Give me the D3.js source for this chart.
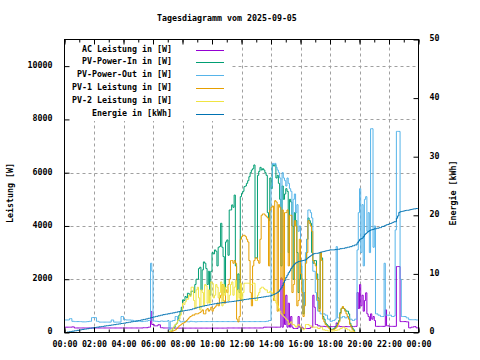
<!DOCTYPE html>
<html><head><meta charset="utf-8">
<script src="https://cdn.jsdelivr.net/npm/d3@7"></script>
<style>
html,body{margin:0;padding:0;background:#fff;}
svg{display:block;}
text{font-family:"DejaVu Sans Mono",monospace;font-size:8.3px;font-weight:bold;fill:#000;}
</style></head><body>
<svg id="c" width="480" height="360"></svg>
<script>
const chartTitle = "Tagesdiagramm vom 2025-09-05";
const yLabel = "Leistung [W]";
const y2Label = "Energie [kWh]";
const seriesNames = ["AC Leistung in [W]","PV-Power-In in [W]","PV-Power-Out in [W]","PV-1 Leistung in [W]","PV-2 Leistung in [W]","Energie in [kWh]"];
const xTickLabels = ["00:00","02:00","04:00","06:00","08:00","10:00","12:00","14:00","16:00","18:00","20:00","22:00","00:00"];
const yTicks = [0,2000,4000,6000,8000,10000];
const y2Ticks = [0,10,20,30,40,50];
// one sample every 5 minutes, 00:00 .. 24:00 (12 per hour row, plus the final 24:00 value)
const sampleStepMinutes = 5;

const acPower = [
200,200,200,200,200,200,210,210,170,170,170,170,
170,170,170,170,170,170,170,170,170,170,170,170,
170,170,170,170,170,170,170,170,170,170,170,170,
170,170,170,170,170,170,170,170,170,170,170,170,
170,170,170,170,170,170,170,170,170,170,170,170,
170,170,170,170,180,180,180,180,200,200,790,300,
300,250,250,250,290,290,180,180,170,170,170,170,
170,170,165,165,165,165,165,165,165,165,165,165,
165,165,165,165,165,165,165,165,165,165,165,165,
165,165,165,165,165,165,165,165,165,165,165,165,
165,165,165,165,165,165,165,165,165,165,165,165,
170,170,170,170,170,170,170,170,170,170,170,170,
170,170,170,170,170,170,170,170,170,170,170,170,
170,170,170,170,170,170,200,200,200,200,200,200,
200,200,200,200,200,200,200,200,2050,200,1850,300,
1400,200,1100,200,600,200,150,150,150,150,600,200,
200,200,150,150,150,150,150,150,200,200,1400,950,
300,300,250,250,230,230,230,230,220,220,220,220,
220,220,220,220,230,360,240,240,220,220,220,220,
220,220,220,220,220,220,220,220,230,230,1500,900,
1800,1000,1400,800,1200,1490,700,600,450,700,500,600,
450,230,230,230,230,230,230,230,230,850,250,250,
230,230,230,230,230,230,2475,2475,2475,410,410,410,
410,410,400,400,175,175,200,200,220,220,175,175,
175];
const pvPowerIn = [
0,0,0,0,0,0,0,0,0,0,0,0,
0,0,0,0,0,0,0,0,0,0,0,0,
0,0,0,0,0,0,0,0,0,0,0,0,
0,0,0,0,0,0,0,0,0,0,0,0,
0,0,0,0,0,0,0,0,0,0,0,0,
0,0,0,0,0,0,0,0,0,0,0,0,
0,0,0,0,0,0,0,0,0,0,0,0,
0,20,50,80,150,200,300,350,500,650,800,950,
1225,1200,1350,1300,1475,1450,1400,1550,1550,1500,1800,2000,
2000,2400,2450,1600,2350,2650,2600,2400,1800,2300,1400,2300,
3000,2950,3100,3050,2500,3200,3230,4100,3200,2850,1500,3400,
3475,2900,4600,4600,4790,4700,5160,2500,1600,2200,1500,5100,
5225,5300,5475,5500,5600,5700,5850,6000,6100,6150,6290,2800,
2800,5900,6050,6200,6100,6150,6100,6000,5900,4500,4200,5800,
5400,6300,6250,6300,5800,5900,5600,5000,2500,5500,5000,5200,
5400,5300,3000,5000,4900,4000,2000,4500,4200,3000,1500,2000,
2500,2000,700,1500,2800,3500,4300,4200,4100,3000,2600,2700,
2700,2200,1300,900,3000,2800,600,500,350,300,250,200,
120,120,130,150,200,250,350,450,750,900,950,900,
850,800,800,700,350,250,150,100,0,0,0,0,
0,0,0,0,0,0,0,0,0,0,0,0,
0,0,0,0,0,0,0,0,0,0,0,0,
0,0,0,0,0,0,0,0,0,0,0,0,
0,0,0,0,0,0,0,0,0,0,0,0,
0];
const pvPowerOut = [
470,470,470,470,520,520,420,420,410,410,410,410,
410,410,400,400,400,400,410,410,420,420,560,560,
560,560,420,420,390,390,390,390,390,390,390,390,
390,390,470,470,390,390,390,390,390,390,600,600,
480,480,470,470,470,470,460,460,430,430,420,420,
420,420,410,410,420,420,430,430,450,450,2600,2300,
430,430,420,420,410,410,430,430,420,420,420,420,
450,100,420,420,450,450,600,600,450,450,400,400,
420,420,410,410,400,400,420,420,410,410,400,400,
410,410,410,410,410,410,410,410,410,410,410,410,
410,410,410,410,410,410,410,410,410,410,410,410,
410,410,410,410,410,410,410,410,410,410,410,410,
410,410,410,410,410,410,410,410,410,410,410,410,
410,410,410,410,410,410,410,410,420,420,450,450,
5500,6350,6300,6350,6200,6100,6000,5800,3000,6000,5800,5700,
5500,5800,5600,5400,5300,4000,5000,5200,4500,4800,3800,4000,
2700,2000,800,1500,3000,3500,4600,4600,4500,4300,2300,2300,
1500,1200,800,800,700,700,700,700,650,650,500,500,
420,420,450,450,500,3225,550,550,550,550,600,600,
550,550,600,600,500,500,450,450,500,500,3100,4500,
5400,3000,4800,2500,5000,5100,3800,4500,3000,7650,7650,3200,
4000,700,700,650,650,600,600,600,2600,650,650,650,
650,650,600,600,620,3850,7550,7550,7550,2000,600,600,
600,600,550,550,480,480,480,480,480,480,470,470,
470];
const pv1Power = [
0,0,0,0,0,0,0,0,0,0,0,0,
0,0,0,0,0,0,0,0,0,0,0,0,
0,0,0,0,0,0,0,0,0,0,0,0,
0,0,0,0,0,0,0,0,0,0,0,0,
0,0,0,0,0,0,0,0,0,0,0,0,
0,0,0,0,0,0,0,0,0,0,0,0,
0,0,0,0,0,0,0,0,0,0,0,0,
0,10,30,40,60,80,100,150,200,250,280,320,
350,370,400,450,500,550,600,620,660,650,700,700,
700,730,750,800,850,700,700,850,900,800,850,950,
800,900,950,1000,1100,1000,1300,1400,1800,1200,1100,1600,
1500,1800,2000,2700,2700,2600,2700,2600,500,400,600,3500,
3600,3650,3650,3600,3500,3400,2700,1500,1000,2500,2700,2800,
2800,2700,2600,3500,4400,4450,4450,4400,4350,4300,2500,4600,
4700,4750,1200,4950,4900,800,4800,4700,2000,4600,700,4500,
4500,4600,2500,4400,4400,1500,1800,4200,4000,1000,1200,3500,
2200,1500,600,1000,2600,3000,4200,4100,4000,3800,2700,2600,
2500,2000,1200,800,3000,2700,500,400,300,250,200,150,
100,100,100,120,150,200,300,400,700,900,975,900,
800,700,600,500,300,200,100,50,0,0,0,0,
0,0,0,0,0,0,0,0,0,0,0,0,
0,0,0,0,0,0,0,0,0,0,0,0,
0,0,0,0,0,0,0,0,0,0,0,0,
0,0,0,0,0,0,0,0,0,0,0,0,
0];
const pv2Power = [
0,0,0,0,0,0,0,0,0,0,0,0,
0,0,0,0,0,0,0,0,0,0,0,0,
0,0,0,0,0,0,0,0,0,0,0,0,
0,0,0,0,0,0,0,0,0,0,0,0,
0,0,0,0,0,0,0,0,0,0,0,0,
0,0,0,0,0,0,0,0,0,0,0,0,
0,0,0,0,0,0,0,0,0,0,0,0,
0,20,60,100,150,250,300,350,450,500,650,800,
1100,1050,1150,1250,1250,1400,1350,1700,1700,1200,900,1600,
1700,1300,850,1600,1500,1000,1800,1750,1100,1600,1100,1900,
1850,1300,1400,1800,1700,1300,1500,1900,1000,1800,1400,1700,
1700,1200,1400,1800,1900,1400,1700,1950,1200,1600,1300,1850,
1200,1500,1850,1850,1850,1850,1850,1800,1800,1850,1850,1200,
1200,1400,1500,1650,1700,1700,1650,1600,1600,1500,1500,1550,
1500,1450,1300,1200,1100,1000,900,800,700,650,600,550,
500,450,300,350,400,300,300,250,200,250,300,250,
200,150,100,150,300,300,300,250,250,200,200,200,
200,200,150,150,200,200,100,100,80,80,60,60,
50,50,60,60,80,80,100,100,150,150,200,200,
150,150,100,100,50,50,20,20,0,0,0,0,
0,0,0,0,0,0,0,0,0,0,0,0,
0,0,0,0,0,0,0,0,0,0,0,0,
0,0,0,0,0,0,0,0,0,0,0,0,
0,0,0,0,0,0,0,0,0,0,0,0,
0];
const energyKWh = [
0,0,0.07,0.07,0.15,0.15,0.22,0.22,0.3,0.3,0.37,0.37,
0.45,0.45,0.52,0.52,0.58,0.58,0.65,0.65,0.72,0.72,0.78,0.78,
0.85,0.85,0.91,0.91,0.97,0.97,1.03,1.03,1.1,1.1,1.16,1.16,
1.22,1.22,1.28,1.28,1.34,1.34,1.41,1.41,1.47,1.47,1.54,1.54,
1.6,1.6,1.68,1.68,1.75,1.75,1.83,1.83,1.9,1.9,1.98,1.98,
2.05,2.05,2.14,2.14,2.23,2.23,2.32,2.32,2.42,2.42,2.55,2.55,
2.65,2.65,2.75,2.75,2.85,2.85,2.95,2.95,3.05,3.05,3.12,3.12,
3.2,3.2,3.28,3.28,3.36,3.36,3.45,3.45,3.55,3.55,3.62,3.62,
3.7,3.7,3.77,3.77,3.84,3.84,3.9,3.9,4.05,4.05,4.18,4.18,
4.3,4.3,4.4,4.4,4.5,4.5,4.6,4.6,4.68,4.68,4.76,4.76,
4.85,4.85,4.92,4.92,4.98,4.98,5.05,5.05,5.1,5.1,5.15,5.15,
5.2,5.2,5.25,5.25,5.3,5.3,5.35,5.35,5.42,5.42,5.48,5.48,
5.55,5.55,5.62,5.62,5.68,5.68,5.75,5.75,5.8,5.8,5.85,5.85,
5.9,5.9,5.97,5.97,6.03,6.03,6.1,6.1,6.17,6.17,6.23,6.23,
6.3,6.4,6.5,6.6,6.7,6.85,7.0,7.3,7.6,8.0,8.5,8.9,
9.4,9.8,10.2,10.5,10.9,11.2,11.5,11.7,11.9,12.0,12.1,12.15,
12.2,12.25,12.3,12.35,12.4,12.6,12.8,12.95,13.1,13.25,13.4,13.45,
13.5,13.5,13.55,13.6,13.7,13.75,13.8,13.85,13.9,13.95,14.0,14.05,
14.1,14.1,14.1,14.1,14.15,14.15,14.2,14.2,14.3,14.3,14.35,14.35,
14.45,14.45,14.55,14.55,14.65,14.65,14.8,14.8,14.95,14.95,15.3,15.6,
15.9,16.0,16.1,16.4,16.7,16.9,17.1,17.25,17.4,17.5,17.55,17.6,
17.7,17.7,17.8,17.8,17.9,17.9,18.1,18.1,18.2,18.3,18.4,18.45,
18.55,18.6,18.7,18.8,18.9,18.9,19.5,19.9,20.5,20.6,20.65,20.7,
20.75,20.8,20.85,20.85,20.9,20.95,21.0,21.05,21.1,21.1,21.15,21.15,
21.2];

const colors = ["#9400d3","#009e73","#56b4e9","#e69f00","#f0e442","#0072b2"];

const W = 480, H = 360;
const L = 64.5, R = 418.5, T = 39.5, B = 332.5;
const svg = d3.select("#c");
svg.append("rect").attr("width",W).attr("height",H).attr("fill","#fff");

const day0 = new Date(2025,8,5,0,0);
const times = acPower.map((_,i)=>d3.timeMinute.offset(day0, i*sampleStepMinutes));
const x = d3.scaleTime().domain([day0, d3.timeDay.offset(day0,1)]).range([L,R]);
const y = d3.scaleLinear().domain([0,11000]).range([B,T]);
const y2 = d3.scaleLinear().domain([0,50]).range([B,T]);

const majorTimes = xTickLabels.map((_,i)=>d3.timeHour.offset(day0,i*2));
const minorTimes = d3.range(25).map(h=>d3.timeHour.offset(day0,h));

// grid
const grid = svg.append("g").attr("stroke","#a0a0a0").attr("stroke-width",1).attr("stroke-dasharray","3,3");
yTicks.filter(v=>v>0).forEach(v=>{
  const yy = Math.round(y(v))+0.5;
  grid.append("line").attr("x1",L).attr("x2",R).attr("y1",yy).attr("y2",yy);
});
majorTimes.slice(1,-1).forEach(t=>{
  const xx = Math.round(x(t))+0.5;
  grid.append("line").attr("x1",xx).attr("x2",xx).attr("y1",B).attr("y2",T);
});

// data
svg.append("clipPath").attr("id","pc").append("rect").attr("x",L).attr("y",T).attr("width",R-L).attr("height",B-T);
const plot = svg.append("g").attr("clip-path","url(#pc)");
const seriesData = [acPower,pvPowerIn,pvPowerOut,pv1Power,pv2Power];
seriesData.forEach((vals,k)=>{
  const line = d3.line().curve(d3.curveStepAfter).x((d,i)=>x(times[i])).y(d=>y(d));
  plot.append("path").attr("d",line(vals)).attr("fill","none").attr("stroke",colors[k]).attr("stroke-width",1);
});
const eLine = d3.line().curve(d3.curveStepAfter).x((d,i)=>x(times[i])).y(d=>y2(d));
plot.append("path").attr("d",eLine(energyKWh)).attr("fill","none").attr("stroke",colors[5]).attr("stroke-width",1);

// legend (opaque)
svg.append("rect").attr("x",L+0.5).attr("y",T+0.5).attr("width",166).attr("height",81).attr("fill","#fff");
const lg = svg.append("g");
seriesNames.forEach((n,i)=>{
  const ly = 49.5 + i*12.9;
  lg.append("text").attr("x",172).attr("y",ly+2).attr("text-anchor","end").text(n);
  lg.append("line").attr("x1",196).attr("x2",224).attr("y1",Math.round(ly)+0.5).attr("y2",Math.round(ly)+0.5).attr("stroke",colors[i]).attr("stroke-width",1);
});

// border
svg.append("rect").attr("x",L).attr("y",T).attr("width",R-L).attr("height",B-T).attr("fill","none").attr("stroke","#000").attr("stroke-width",1);

// axes
const bx = svg.append("g").attr("transform",`translate(0,${B})`)
  .call(d3.axisBottom(x).tickValues(majorTimes).tickFormat((d,i)=>xTickLabels[i]).tickSizeInner(-5).tickSizeOuter(0).tickPadding(8.5));
bx.select(".domain").remove();
const bxm = svg.append("g").attr("transform",`translate(0,${B})`)
  .call(d3.axisBottom(x).tickValues(minorTimes).tickFormat("").tickSizeInner(-3).tickSizeOuter(0));
bxm.select(".domain").remove();
const tx = svg.append("g").attr("transform",`translate(0,${T})`)
  .call(d3.axisTop(x).tickValues(majorTimes).tickFormat("").tickSizeInner(-5).tickSizeOuter(0));
tx.select(".domain").remove();
const txm = svg.append("g").attr("transform",`translate(0,${T})`)
  .call(d3.axisTop(x).tickValues(minorTimes).tickFormat("").tickSizeInner(-3).tickSizeOuter(0));
txm.select(".domain").remove();
const lyAx = svg.append("g").attr("transform",`translate(${L},0)`)
  .call(d3.axisLeft(y).tickValues(yTicks).tickFormat(d=>String(d)).tickSizeInner(-5).tickSizeOuter(0).tickPadding(12));
lyAx.select(".domain").remove();
lyAx.selectAll("text").attr("dy","0.17em");
const ryAx = svg.append("g").attr("transform",`translate(${R},0)`)
  .call(d3.axisRight(y2).tickValues(y2Ticks).tickFormat(d=>String(d)).tickSizeInner(-5).tickSizeOuter(0).tickPadding(11));
ryAx.select(".domain").remove();
ryAx.selectAll("text").attr("dy","0.17em");
svg.selectAll(".tick line").attr("stroke","#000");
svg.selectAll(".tick text").attr("fill","#000");
svg.selectAll("g[font-family]").attr("font-family",null).attr("font-size",null);

// labels
svg.append("text").attr("x",157).attr("y",20.5).text(chartTitle);
svg.append("text").attr("transform","translate(12.5,193) rotate(-90)").attr("text-anchor","middle").text(yLabel);
svg.append("text").attr("transform","translate(455.5,193) rotate(-90)").attr("text-anchor","middle").text(y2Label);
</script>
</body></html>
